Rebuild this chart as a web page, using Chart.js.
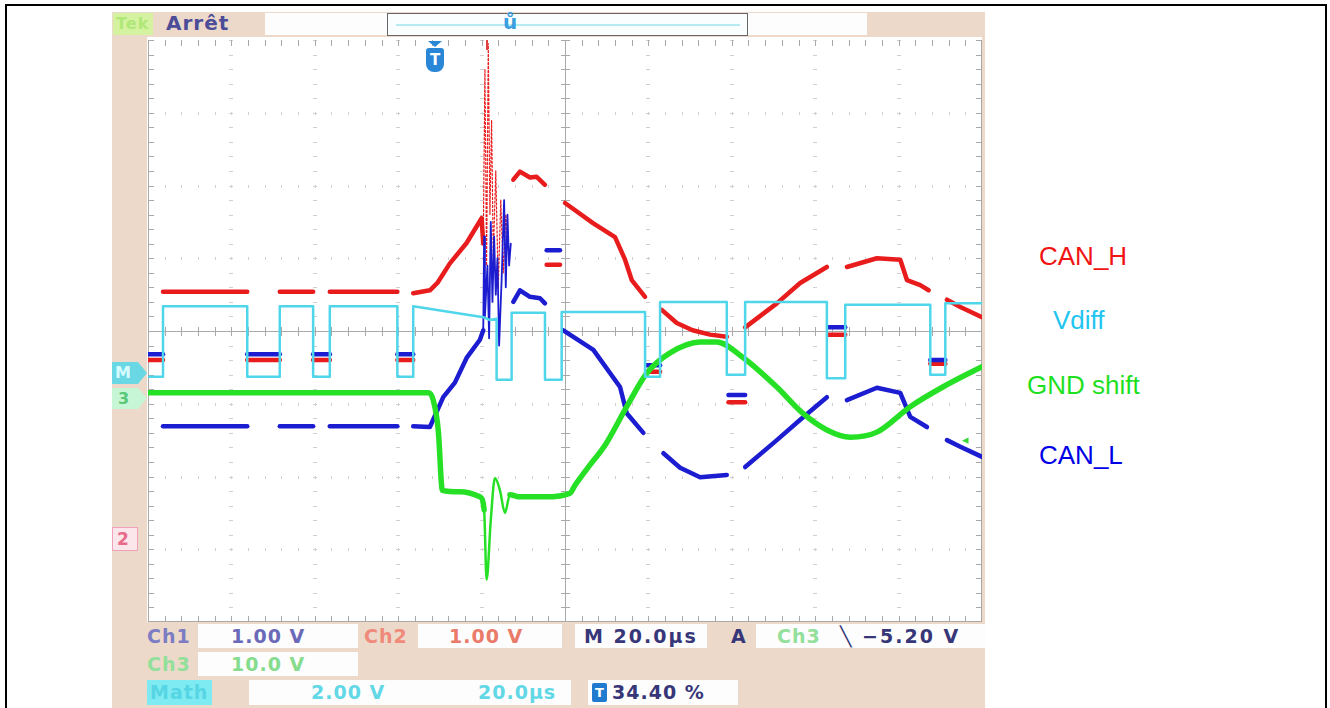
<!DOCTYPE html>
<html>
<head>
<meta charset="utf-8">
<script src="https://cdn.jsdelivr.net/npm/chart.js@4.4.0/dist/chart.umd.min.js"></script>
<style>
  html, body { margin: 0; padding: 0; background: #fff; }
  body { width: 1330px; height: 708px; position: relative; overflow: hidden; font-family: "DejaVu Sans", sans-serif; }
  .abs { position: absolute; }
  .frame { left: 5px; top: 4px; width: 1322px; height: 760px; border: 2px solid #000; box-sizing: border-box; }
  .bezel { left: 112px; top: 12px; width: 873px; height: 700px; background: #ecd9ca; }
  .screen { left: 147px; top: 37px; width: 835px; height: 585px; background: #fff; }
  .box { background: #fdfdfd; }
  .osc { position: absolute; white-space: nowrap; font-weight: bold; font-size: 19px; line-height: 20px; letter-spacing: 1px; }
  .lbl { position: absolute; white-space: nowrap; font-family: "Liberation Sans", Arial, sans-serif; font-size: 26px; line-height: 26px; }
  #wrap { position: absolute; left: 148px; top: 40px; width: 834px; height: 582px; }
</style>
</head>
<body>
<div class="abs frame"></div>
<div class="abs bezel"></div>

<!-- top status bar -->
<div class="abs" style="left:113px;top:13px;width:40px;height:22px;background:#d4f2a0;"></div>
<div class="osc" style="left:116px;top:14px;color:#b0e878;font-size:16px;">Tek</div>
<div class="osc" style="left:166px;top:13px;color:#4c4c98;font-size:20px;">Arrêt</div>
<div class="abs box" style="left:265px;top:13px;width:122px;height:22px;"></div>
<div class="abs" style="left:387px;top:13px;width:361px;height:23px;background:#fbfefe;border:1px solid #666;box-sizing:border-box;"></div>
<div class="abs" style="left:396px;top:24px;width:344px;height:2px;background:#b4ecf2;"></div>
<div class="abs box" style="left:748px;top:13px;width:119px;height:22px;"></div>
<div class="osc" style="left:503px;top:12px;color:#3a9ee0;font-size:20px;letter-spacing:0;">ů</div>

<div class="abs screen"></div>
<div id="wrap"><canvas id="scope"></canvas></div>

<!-- trigger position marker -->
<div class="abs" style="left:428px;top:41px;width:0;height:0;border-left:7px solid transparent;border-right:7px solid transparent;border-top:6px solid #2a86d6;"></div>
<div class="abs" style="left:426px;top:48px;width:18px;height:24px;background:#2a86d6;border-radius:3px 3px 8px 8px;color:#fff;font:bold 15px 'DejaVu Sans';text-align:center;line-height:24px;">T</div>
<div class="abs" style="left:486px;top:40px;width:2px;height:10px;background:#e04040;"></div>

<!-- channel ground markers -->
<div class="abs" style="left:112px;top:362px;width:26px;height:22px;background:#6ad8e4;"></div>
<div class="abs" style="left:138px;top:362px;width:0;height:0;border-top:11px solid transparent;border-bottom:11px solid transparent;border-left:9px solid #6ad8e4;"></div>
<div class="osc" style="left:115px;top:363px;color:#d8fbff;font-size:16px;">M</div>
<div class="abs" style="left:112px;top:388px;width:26px;height:21px;background:#c6f6d6;"></div>
<div class="abs" style="left:138px;top:388px;width:0;height:0;border-top:10px solid transparent;border-bottom:11px solid transparent;border-left:9px solid #c6f6d6;"></div>
<div class="osc" style="left:118px;top:389px;color:#58c878;font-size:16px;">3</div>
<div class="abs" style="left:112px;top:527px;width:26px;height:24px;background:#fbe6ec;border:1px solid #f0a0b8;box-sizing:border-box;"></div>
<div class="osc" style="left:117px;top:529px;color:#e86a8a;font-size:17px;">2</div>
<div class="osc" style="left:962px;top:430px;color:#38d838;font-size:13px;letter-spacing:0;">◂</div>

<!-- bottom readouts -->
<div class="abs box" style="left:198px;top:624px;width:160px;height:24px;"></div>
<div class="abs box" style="left:418px;top:624px;width:144px;height:24px;"></div>
<div class="abs box" style="left:575px;top:624px;width:132px;height:24px;"></div>
<div class="abs box" style="left:756px;top:624px;width:229px;height:24px;"></div>
<div class="abs box" style="left:198px;top:652px;width:160px;height:24px;"></div>
<div class="abs" style="left:147px;top:680px;width:65px;height:25px;background:#7eeaf2;"></div>
<div class="abs box" style="left:249px;top:680px;width:322px;height:25px;"></div>
<div class="abs box" style="left:588px;top:680px;width:150px;height:25px;"></div>

<div class="osc" style="left:147px;top:626px;color:#7c7cc4;">Ch1</div>
<div class="osc" style="left:231px;top:626px;color:#6a6ab8;">1.00 V</div>
<div class="osc" style="left:364px;top:626px;color:#f08a7a;">Ch2</div>
<div class="osc" style="left:449px;top:626px;color:#ea7a6a;">1.00 V</div>
<div class="osc" style="left:584px;top:626px;color:#363678;letter-spacing:2px;">M 20.0µs</div>
<div class="osc" style="left:731px;top:626px;color:#363678;">A</div>
<div class="osc" style="left:777px;top:626px;color:#92e09a;">Ch3</div>
<div class="osc" style="left:840px;top:626px;color:#363678;letter-spacing:2px;">╲ −5.20 V</div>

<div class="osc" style="left:147px;top:654px;color:#92e09a;">Ch3</div>
<div class="osc" style="left:231px;top:654px;color:#86dc8e;">10.0 V</div>

<div class="osc" style="left:150px;top:682px;color:#56d6e4;">Math</div>
<div class="osc" style="left:311px;top:682px;color:#62d8e6;">2.00 V</div>
<div class="osc" style="left:478px;top:682px;color:#62d8e6;">20.0µs</div>
<div class="abs" style="left:592px;top:683px;width:15px;height:19px;background:#1f7ad0;border-radius:2px;color:#fff;font:bold 13px 'DejaVu Sans';text-align:center;line-height:19px;">T</div>
<div class="osc" style="left:612px;top:682px;color:#363678;">34.40 %</div>

<!-- trace names -->
<div class="lbl" style="left:1039px;top:243px;color:#f01414;">CAN_H</div>
<div class="lbl" style="left:1053px;top:307px;color:#22c4f0;">Vdiff</div>
<div class="lbl" style="left:1027px;top:372px;color:#1fe01f;">GND shift</div>
<div class="lbl" style="left:1039px;top:442px;color:#0000e6;">CAN_L</div>

<script>
// Screen units: x = horizontal divisions (0..10, 20 µs/div), y = vertical divisions (-4..4)
// Each series is a list of trace pieces; pieces are drawn with a gap between them.
const xDivs = 10;
const yDivs = 4;
const burstFrom = 4.01;   // start of the noise burst (div)
const burstTo = 4.37;     // end of the noise burst (div)

const canH = [
  [[0, -0.40], [0.18, -0.40]],
  [[0.18, 0.54], [1.19, 0.54]],
  [[1.19, -0.40], [1.58, -0.40]],
  [[1.58, 0.54], [1.98, 0.54]],
  [[1.98, -0.40], [2.18, -0.40]],
  [[2.18, 0.54], [2.99, 0.54]],
  [[2.99, -0.40], [3.18, -0.40]],
  [[3.18, 0.52], [3.38, 0.56], [3.47, 0.66], [3.62, 0.93], [3.82, 1.21], [4.00, 1.55],
   [4.02, 1.2], [4.04, 3.6], [4.06, 0.9], [4.08, 3.95], [4.10, 1.6], [4.12, 2.9], [4.14, 1.0],
   [4.17, 2.2], [4.20, 0.6], [4.23, 1.8], [4.26, 0.8], [4.29, 1.6], [4.32, 1.1]],
  [[4.38, 2.08], [4.46, 2.19], [4.58, 2.11], [4.66, 2.12], [4.76, 2.01]],
  [[4.78, 0.91], [4.94, 0.91]],
  [[5.00, 1.76], [5.34, 1.48], [5.60, 1.29], [5.72, 0.98], [5.80, 0.70], [5.96, 0.47]],
  [[5.98, -0.56], [6.14, -0.56]],
  [[6.16, 0.29], [6.34, 0.11], [6.53, 0.01], [6.74, -0.05], [6.94, -0.08]],
  [[6.96, -0.98], [7.16, -0.98]],
  [[7.16, 0.05], [7.54, 0.38], [7.82, 0.66], [8.14, 0.88]],
  [[8.16, -0.05], [8.36, -0.05]],
  [[8.38, 0.88], [8.74, 1.00], [9.02, 0.98], [9.10, 0.70], [9.26, 0.63], [9.36, 0.56]],
  [[9.38, -0.45], [9.56, -0.45]],
  [[9.58, 0.43], [9.74, 0.33], [10, 0.19]]
];

const canL = [
  [[0, -0.32], [0.18, -0.32]],
  [[0.18, -1.31], [1.19, -1.31]],
  [[1.19, -0.32], [1.58, -0.32]],
  [[1.58, -1.31], [1.98, -1.31]],
  [[1.98, -0.32], [2.18, -0.32]],
  [[2.18, -1.31], [2.99, -1.31]],
  [[2.99, -0.32], [3.18, -0.32]],
  [[3.18, -1.31], [3.38, -1.32], [3.54, -0.91], [3.68, -0.71], [3.82, -0.37], [3.98, -0.12], [4.02, 0.01],
   [4.03, 1.3], [4.04, 0.2], [4.07, 0.9], [4.09, -0.1], [4.11, 1.5], [4.13, 0.4], [4.15, 1.3], [4.17, 0.5],
   [4.19, 1.0], [4.21, -0.2], [4.24, 0.7], [4.27, 1.8], [4.29, 0.6], [4.31, 1.6], [4.33, 0.9], [4.35, 1.2]],
  [[4.38, 0.40], [4.46, 0.56], [4.58, 0.47], [4.70, 0.45], [4.76, 0.38]],
  [[4.78, 1.11], [4.94, 1.11]],
  [[4.98, 0.01], [5.34, -0.26], [5.66, -0.77], [5.74, -1.13], [5.94, -1.40]],
  [[5.98, -0.47], [6.14, -0.47]],
  [[6.18, -1.68], [6.38, -1.88], [6.62, -2.01], [6.94, -1.98]],
  [[6.96, -0.88], [7.16, -0.88]],
  [[7.16, -1.87], [7.54, -1.50], [7.82, -1.22], [8.14, -0.91]],
  [[8.16, 0.05], [8.36, 0.05]],
  [[8.38, -0.95], [8.74, -0.78], [9.02, -0.85], [9.14, -1.18], [9.34, -1.32]],
  [[9.38, -0.40], [9.56, -0.40]],
  [[9.58, -1.50], [9.74, -1.59], [10, -1.73]]
];

const vdiff = [[
  [0, -0.63], [0.18, -0.63], [0.18, 0.34], [1.19, 0.34], [1.19, -0.63], [1.58, -0.63], [1.58, 0.34],
  [1.98, 0.34], [1.98, -0.63], [2.18, -0.63], [2.18, 0.34], [2.99, 0.34], [2.99, -0.63], [3.18, -0.63],
  [3.18, 0.34], [3.62, 0.26], [4.02, 0.19], [4.10, 0.15], [4.18, 0.17], [4.18, -0.67], [4.36, -0.67],
  [4.36, 0.25], [4.76, 0.25], [4.76, -0.67], [4.96, -0.67], [4.96, 0.26], [5.96, 0.26], [5.96, -0.63],
  [6.14, -0.63], [6.14, 0.40], [6.94, 0.40], [6.94, -0.60], [7.16, -0.60], [7.16, 0.40], [8.14, 0.40],
  [8.14, -0.65], [8.36, -0.65], [8.36, 0.36], [9.38, 0.36], [9.38, -0.60], [9.56, -0.60], [9.56, 0.38], [10, 0.38]
]];

const gndShift = [[
  [0, -0.85], [3.36, -0.85], [3.42, -0.95], [3.48, -1.36], [3.53, -2.19], [3.74, -2.21], [3.98, -2.28],
  [4.03, -2.46], [4.06, -3.42], [4.11, -2.60], [4.16, -2.02], [4.22, -2.19], [4.28, -2.50], [4.34, -2.25],
  [4.46, -2.28], [4.76, -2.28], [5.06, -2.23], [5.12, -2.12], [5.30, -1.84], [5.48, -1.57], [5.74, -1.04],
  [5.98, -0.58], [6.26, -0.30], [6.62, -0.15], [6.82, -0.15], [7.13, -0.36], [7.54, -0.77], [7.85, -1.13],
  [8.14, -1.36], [8.42, -1.46], [8.74, -1.39], [9.14, -1.04], [9.53, -0.77], [10, -0.49]
]];

// join the pieces, putting a null point between them so the line breaks
function toPoints(pieces) {
  const pts = [];
  pieces.forEach((piece, i) => {
    if (i > 0) pts.push({ x: piece[0][0], y: null });
    piece.forEach(p => pts.push({ x: p[0], y: p[1] }));
  });
  return pts;
}

// thin lines inside the noise burst
function burstWidth(normal, thin) {
  return ctx => (ctx.p0.parsed.x >= burstFrom && ctx.p1.parsed.x <= burstTo) ? thin : normal;
}

// oscilloscope graticule: dotted divisions, centre cross and frame with minor ticks
const graticule = {
  id: 'graticule',
  beforeDatasetsDraw(chart) {
    const { ctx, scales: { x, y } } = chart;
    const px = v => Math.round(x.getPixelForValue(v));
    const py = v => Math.round(y.getPixelForValue(v));
    ctx.save();
    ctx.fillStyle = '#cfcfcf';
    for (let i = 1; i < xDivs; i++) {
      if (i === xDivs / 2) continue;
      for (let j = 0; j <= yDivs * 10; j++) {
        ctx.fillRect(px(i) - 2, py(-yDivs + j * 0.2), 4, 1);
      }
    }
    for (let i = -yDivs + 1; i < yDivs; i++) {
      if (i === 0) continue;
      for (let j = 0; j <= xDivs * 5; j++) {
        ctx.fillRect(px(j * 0.2), py(i) - 1, 1, 3);
      }
    }
    ctx.fillStyle = '#a9a9a9';
    // centre cross
    ctx.fillRect(px(xDivs / 2), py(yDivs), 1, py(-yDivs) - py(yDivs));
    ctx.fillRect(px(0), py(0), px(xDivs) - px(0), 1);
    for (let j = 0; j <= xDivs * 5; j++) {
      ctx.fillRect(px(j * 0.2), py(0) - 4, 1, 9);
      ctx.fillRect(px(j * 0.2), py(yDivs), 1, 6);
      ctx.fillRect(px(j * 0.2), py(-yDivs) - 6, 1, 6);
    }
    for (let j = 0; j <= yDivs * 10; j++) {
      ctx.fillRect(px(xDivs / 2) - 4, py(-yDivs + j * 0.2), 9, 1);
      ctx.fillRect(px(0), py(-yDivs + j * 0.2), 6, 1);
      ctx.fillRect(px(xDivs) - 6, py(-yDivs + j * 0.2), 6, 1);
    }
    // frame
    ctx.fillRect(px(0), py(yDivs), 1, py(-yDivs) - py(yDivs));
    ctx.fillRect(px(xDivs) - 1, py(yDivs), 1, py(-yDivs) - py(yDivs));
    ctx.fillRect(px(0), py(-yDivs) - 1, px(xDivs) - px(0), 1);
    ctx.restore();
  }
};

const config = {
  type: 'line',
  data: {
    datasets: [
      {
        label: 'Vdiff',
        data: toPoints(vdiff),
        borderColor: '#4fd6ea',
        borderWidth: 2.5,
        order: 0
      },
      {
        label: 'GND shift',
        data: toPoints(gndShift),
        borderColor: '#26e026',
        borderWidth: 5.5,
        cubicInterpolationMode: 'monotone',
        segment: { borderWidth: burstWidth(5.5, 2.5) },
        order: 1
      },
      {
        label: 'CAN_L',
        data: toPoints(canL),
        borderColor: '#1c1cd0',
        borderWidth: 4.5,
        segment: { borderWidth: burstWidth(4.5, 1.8) },
        order: 2
      },
      {
        label: 'CAN_H',
        data: toPoints(canH),
        borderColor: '#e81c1c',
        borderWidth: 4.5,
        segment: {
          borderWidth: burstWidth(4.5, 1.2),
          borderDash: ctx => (ctx.p0.parsed.x >= burstFrom && ctx.p1.parsed.x <= burstTo) ? [2, 2] : undefined
        },
        order: 3
      }
    ]
  },
  options: {
    responsive: true,
    maintainAspectRatio: false,
    animation: false,
    spanGaps: false,
    layout: { padding: 0 },
    elements: {
      point: { radius: 0, hoverRadius: 0 },
      line: { tension: 0, borderJoinStyle: 'round', borderCapStyle: 'round' }
    },
    scales: {
      x: { type: 'linear', min: 0, max: xDivs, display: false },
      y: { type: 'linear', min: -yDivs, max: yDivs, display: false }
    },
    plugins: {
      legend: { display: false },
      tooltip: { enabled: false }
    }
  },
  plugins: [graticule]
};

const scopeChart = new Chart(document.getElementById('scope'), config);
</script>
</body>
</html>
